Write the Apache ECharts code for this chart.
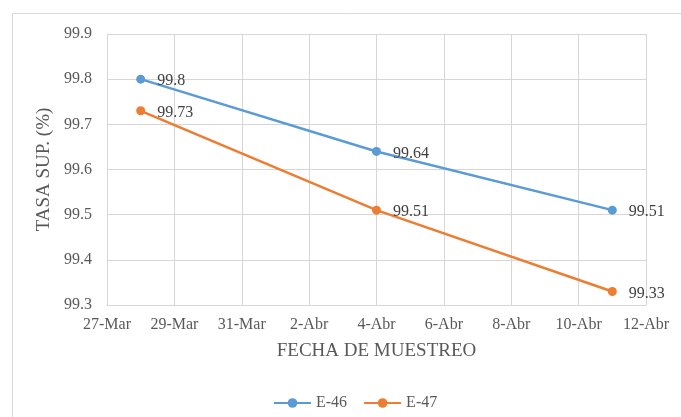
<!DOCTYPE html>
<html>
<head>
<meta charset="utf-8">
<script src="https://cdn.jsdelivr.net/npm/echarts@6/dist/echarts.min.js"></script>
<style>
  html, body { margin: 0; padding: 0; background: #fff; }
  #chart { width: 681px; height: 417px; }
</style>
</head>
<body>
<div id="chart"></div>
<script>
// Sampling dates (day, month) and surface rate per station
const sampleDates = [[28, 3], [4, 4], [11, 4]];
const e46Values = [99.8, 99.64, 99.51];
const e47Values = [99.73, 99.51, 99.33];
const seriesNames = ['E-46', 'E-47'];
const monthNames = { 3: 'Mar', 4: 'Abr' };
const axisStart = [27, 3];          // first tick of the date axis
const axisSpanDays = 16;            // 27-Mar .. 12-Abr
const axisStepDays = 2;
const yTicks = [99.3, 99.4, 99.5, 99.6, 99.7, 99.8, 99.9];

const YEAR = 2019;
const DAY = 86400000;
const startTime = Date.UTC(YEAR, axisStart[1] - 1, axisStart[0]);
function dayOffset(d) {
  return Math.round((Date.UTC(YEAR, d[1] - 1, d[0]) - startTime) / DAY);
}
function dayLabel(off) {
  const dt = new Date(startTime + off * DAY);
  return dt.getUTCDate() + '-' + monthNames[dt.getUTCMonth() + 1];
}

const xs = sampleDates.map(dayOffset);
const grey = '#595959';
const gridLine = '#d6d6d6';
const font = '"Liberation Serif", "Times New Roman", serif';

function makeSeries(name, vals, color) {
  return {
    name: name,
    type: 'line',
    data: vals.map((v, i) => [xs[i], v]),
    symbol: 'circle',
    symbolSize: 9,
    lineStyle: { color: color, width: 2.5 },
    itemStyle: { color: color },
    label: {
      show: true,
      position: 'right',
      distance: 12,
      offset: [0, 2],
      color: '#404040',
      fontFamily: font,
      fontSize: 16,
      formatter: p => String(p.value[1])
    },
    emphasis: { disabled: true },
    animation: false
  };
}

const chart = echarts.init(document.getElementById('chart'), null, { renderer: 'canvas' });
chart.setOption({
  backgroundColor: '#fff',
  animation: false,
  graphic: [{
    type: 'rect',
    shape: { x: 12.5, y: 13.5, width: 700, height: 420 },
    style: { fill: 'none', stroke: '#d9d9d9', lineWidth: 1 },
    silent: true,
    z: -1
  }],
  grid: { left: 107, top: 34, right: 35, bottom: 112 },
  legend: {
    data: seriesNames,
    bottom: 6,
    left: 273,
    padding: 0,
    itemWidth: 37,
    itemHeight: 12,
    itemGap: 16,
    textStyle: { color: grey, fontFamily: font, fontSize: 16 }
  },
  xAxis: {
    type: 'value',
    min: 0,
    max: axisSpanDays,
    interval: axisStepDays,
    name: 'FECHA DE MUESTREO',
    nameLocation: 'middle',
    nameGap: 37,
    nameTextStyle: { color: grey, fontFamily: font, fontSize: 19 },
    axisLine: { show: true, lineStyle: { color: gridLine, width: 1 } },
    axisTick: { show: false },
    axisLabel: {
      color: grey, fontFamily: font, fontSize: 16, margin: 12,
      formatter: v => dayLabel(v)
    },
    splitLine: { show: true, lineStyle: { color: gridLine, width: 1 } }
  },
  yAxis: {
    type: 'value',
    min: yTicks[0],
    max: yTicks[yTicks.length - 1],
    interval: 0.1,
    name: 'TASA SUP. (%)',
    nameLocation: 'middle',
    nameGap: 41,
    nameTextStyle: { color: grey, fontFamily: font, fontSize: 19 },
    axisLine: { show: true, lineStyle: { color: gridLine, width: 1 } },
    axisTick: { show: false },
    axisLabel: {
      color: grey, fontFamily: font, fontSize: 16, margin: 15,
      formatter: v => v.toFixed(1)
    },
    splitLine: { show: true, lineStyle: { color: gridLine, width: 1 } }
  },
  series: [
    makeSeries(seriesNames[0], e46Values, '#5b9bd5'),
    makeSeries(seriesNames[1], e47Values, '#ed7d31')
  ]
});
</script>
</body>
</html>
